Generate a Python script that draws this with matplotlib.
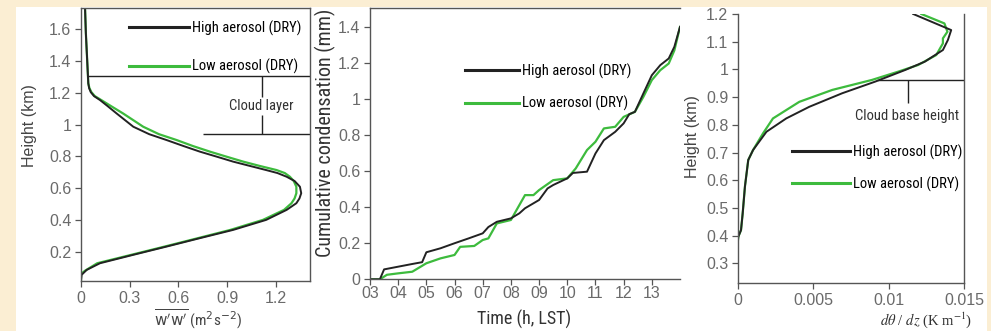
import matplotlib
matplotlib.use("Agg")
import matplotlib.pyplot as plt
from matplotlib import font_manager
from matplotlib.font_manager import FontProperties
from matplotlib.lines import Line2D
from matplotlib.patches import Rectangle

# ---------------- data ----------------
# Panel (a): vertical velocity variance profile
ww_high = [0.025, 0.03, 0.04, 0.045, 0.05, 0.06, 0.08, 0.117, 0.16, 0.22, 0.322, 0.42, 0.527,
           0.632, 0.732, 0.837, 0.937, 1.04, 1.14, 1.21, 1.266, 1.315, 1.348, 1.356, 1.345, 1.326,
           1.266, 1.14, 0.937, 0.732, 0.527, 0.322, 0.117, 0.035, 0.004, 0.0]
z_high = [1.73, 1.575, 1.365, 1.26, 1.23, 1.205, 1.18, 1.155, 1.12, 1.07, 0.987, 0.94, 0.903,
          0.865, 0.83, 0.798, 0.767, 0.74, 0.714, 0.695, 0.672, 0.645, 0.609, 0.568, 0.535, 0.505,
          0.463, 0.40, 0.337, 0.285, 0.232, 0.18, 0.127, 0.085, 0.054, 0.02]
ww_low = [0.025, 0.03, 0.04, 0.045, 0.052, 0.064, 0.085, 0.125, 0.18, 0.26, 0.383, 0.48, 0.589,
          0.69, 0.794, 0.897, 0.999, 1.1, 1.204, 1.255, 1.286, 1.31, 1.326, 1.326, 1.315, 1.296,
          1.25, 1.12, 0.92, 0.72, 0.515, 0.31, 0.10, 0.025, 0.0, 0.0]
z_low = [1.73, 1.575, 1.365, 1.26, 1.23, 1.205, 1.18, 1.155, 1.12, 1.07, 0.987, 0.94, 0.903,
         0.865, 0.83, 0.798, 0.767, 0.74, 0.714, 0.695, 0.672, 0.645, 0.609, 0.568, 0.535, 0.505,
         0.463, 0.40, 0.337, 0.285, 0.232, 0.18, 0.127, 0.08, 0.06, 0.02]
cloud_top, cloud_base1 = 1.306, 0.939

# Panel (b): cumulative condensation
t_high = [3.0, 3.35, 3.5, 4.0, 4.5, 4.85, 5.0, 5.5, 6.0, 6.5, 7.0, 7.2, 7.5, 8.0, 8.3, 8.5, 9.0,
          9.3, 9.5, 10.0, 10.2, 10.7, 11.0, 11.3, 11.7, 12.0, 12.2, 12.4, 12.7, 13.0, 13.3, 13.6,
          13.8, 14.0]
c_high = [0.0, 0.0, 0.055, 0.07, 0.085, 0.095, 0.15, 0.172, 0.2, 0.227, 0.255, 0.29, 0.319, 0.338,
          0.366, 0.394, 0.44, 0.504, 0.523, 0.56, 0.59, 0.597, 0.698, 0.772, 0.818, 0.865, 0.916,
          0.929, 1.031, 1.132, 1.188, 1.225, 1.29, 1.40]
t_low = [3.0, 3.35, 3.6, 4.0, 4.5, 5.0, 5.5, 6.0, 6.2, 6.7, 7.0, 7.2, 7.5, 8.0, 8.5, 8.8, 9.0,
         9.5, 10.0, 10.3, 10.7, 11.0, 11.3, 11.7, 12.0, 12.4, 12.7, 13.0, 13.3, 13.6, 13.8, 14.0]
c_low = [0.0, 0.0, 0.025, 0.033, 0.042, 0.089, 0.116, 0.135, 0.18, 0.185, 0.218, 0.227, 0.31,
         0.329, 0.467, 0.467, 0.495, 0.55, 0.56, 0.615, 0.717, 0.763, 0.837, 0.846, 0.901, 0.929,
         1.012, 1.105, 1.16, 1.197, 1.27, 1.40]
time_ticks = [3, 4, 5, 6, 7, 8, 9, 10, 11, 12, 13]
time_labels = ["03", "04", "05", "06", "07", "08", "09", "10", "11", "12", "13"]

# Panel (c): potential temperature gradient
dth_high = [0.01163, 0.01415, 0.01393, 0.0136, 0.0124, 0.0111, 0.00911, 0.00692, 0.00473, 0.0032,
            0.00189, 0.001, 0.00068, 0.00046, 0.00031, 0.0002, 0.00002, 0.0]
zc_high = [1.2, 1.142, 1.106, 1.07, 1.028, 0.998, 0.956, 0.914, 0.865, 0.823, 0.775, 0.709, 0.673,
           0.577, 0.48, 0.42, 0.396, 0.385]
dth_low = [0.01217, 0.0137, 0.0139, 0.0136, 0.0136, 0.01316, 0.01196, 0.01064, 0.00889, 0.00626,
           0.00407, 0.00232, 0.00166, 0.001, 0.00068, 0.00046, 0.00031, 0.0002, 0.00002, 0.0]
zc_low = [1.2, 1.166, 1.136, 1.112, 1.094, 1.052, 1.016, 0.992, 0.962, 0.926, 0.883, 0.823, 0.769,
          0.709, 0.673, 0.577, 0.48, 0.42, 0.396, 0.385]
cloud_base2 = 0.962

labels = ["High aerosol (DRY)", "Low aerosol (DRY)"]
BLACK = "#222222"
GREEN = "#3dbb3d"

# ---------------- fonts ----------------
entries = font_manager.fontManager.ttflist
names = {f.name for f in entries}
narrow_family, narrow_stretch = "DejaVu Sans", "normal"
for cand in ["Roboto Condensed", "Liberation Sans Narrow", "Open Sans Condensed",
             "Arial Narrow", "DejaVu Sans Condensed"]:
    if cand in names:
        narrow_family = cand
        break
else:
    for f in entries:
        st = str(f.stretch).lower()
        if f.name in ("DejaVu Sans", "Roboto", "Open Sans", "Noto Sans") and \
                ("condensed" in st or (st.isdigit() and int(st) < 500)):
            narrow_family, narrow_stretch = f.name, "condensed"
            break


def NF(size):
    return FontProperties(family=narrow_family, stretch=narrow_stretch, size=size)


plt.rcParams["font.family"] = ["Liberation Sans", "DejaVu Sans"]

TICKC = "#6a6a6a"
SPINEC = "#555555"

fig = plt.figure(figsize=(9.91, 3.31), dpi=100)
fig.patch.set_facecolor("#fbeed3")
W, H = 991, 331
bg = Rectangle((16 / W, 0), (987 - 16) / W, (331 - 7) / H, transform=fig.transFigure,
               facecolor="white", edgecolor="none", zorder=-10)
fig.add_artist(bg)


def ax_at(l, r, t, b):
    a = fig.add_axes([l / W, (H - b) / H, (r - l) / W, (b - t) / H])
    a.set_facecolor("white")
    return a


def style(ax):
    for s in ax.spines.values():
        s.set_color(SPINEC)
        s.set_linewidth(1.0)
    ax.tick_params(direction="out", length=4, width=0.9, color=SPINEC, labelcolor=TICKC,
                   labelsize=11.5, pad=3)


def legend(ax, x, y, spacing, hl):
    hs = [Line2D([], [], color=BLACK, lw=2.2), Line2D([], [], color=GREEN, lw=2.2)]
    ax.legend(hs, labels, loc="upper left", bbox_to_anchor=(x, y), frameon=False,
              borderpad=0, borderaxespad=0, handlelength=hl, handletextpad=0.2,
              labelspacing=spacing, prop=NF(10.5))


# ---- panel 1 ----
ax1 = ax_at(81, 310, 8, 281)
style(ax1)
ax1.plot(ww_low, z_low, color=GREEN, lw=1.6)
ax1.plot(ww_high, z_high, color=BLACK, lw=1.4)
ax1.set_xlim(0, 1.41)
ax1.set_ylim(0.015, 1.735)
ax1.set_xticks([0, 0.3, 0.6, 0.9, 1.2])
ax1.set_xticklabels(["0", "0.3", "0.6", "0.9", "1.2"])
ax1.set_yticks([0.2, 0.4, 0.6, 0.8, 1.0, 1.2, 1.4, 1.6])
ax1.set_yticklabels(["0.2", "0.4", "0.6", "0.8", "1", "1.2", "1.4", "1.6"])
ax1.hlines(cloud_top, 0.045, 1.41, color=BLACK, lw=1.0)
ax1.hlines(cloud_base1, 0.752, 1.41, color=BLACK, lw=1.0)
ax1.vlines(1.112, 1.176, cloud_top, color=BLACK, lw=1.0)
ax1.vlines(1.112, cloud_base1, 1.06, color=BLACK, lw=1.0)
ax1.text(1.112, 1.118, "Cloud layer", ha="center", va="center", fontproperties=NF(10.5),
         color="#333333")
legend(ax1, 0.21, 0.955, 1.6, 4.1)
ax1.set_ylabel("Height (km)", fontsize=11.5, color="#444444")
ax1.yaxis.set_label_coords(-0.19, 0.571)
ax1.set_xlabel(r"$\overline{\mathrm{w'w'}}$ (m$^2$s$^{-2}$)", fontproperties=NF(11),
               color="#444444", math_fontfamily="dejavusans")
ax1.xaxis.set_label_coords(0.511, -0.10)

# ---- panel 2 ----
ax2 = ax_at(370, 680, 8, 279.3)
style(ax2)
ax2.spines["right"].set_visible(False)
ax2.plot(t_low, c_low, color=GREEN, lw=1.6)
ax2.plot(t_high, c_high, color=BLACK, lw=1.4)
ax2.set_xlim(3, 14)
ax2.set_ylim(0, 1.505)
ax2.set_xticks(time_ticks)
ax2.set_xticklabels(time_labels)
ax2.set_yticks([0, 0.2, 0.4, 0.6, 0.8, 1.0, 1.2, 1.4])
ax2.set_yticklabels(["0", "0.2", "0.4", "0.6", "0.8", "1", "1.2", "1.4"])
ax2.tick_params(axis="x", pad=1)
legend(ax2, 0.306, 0.795, 1.15, 3.7)
ax2.set_ylabel("Cumulative condensation (mm)", fontproperties=NF(14.5), color="#333333")
ax2.yaxis.set_label_coords(-0.11, 0.539)
ax2.set_xlabel("Time (h, LST)", fontproperties=NF(13), color="#333333")
ax2.xaxis.set_label_coords(0.497, -0.112)

# ---- panel 3 ----
ax3 = ax_at(738, 964, 14, 283)
style(ax3)
ax3.spines["top"].set_visible(False)
ax3.plot(dth_low, zc_low, color=GREEN, lw=1.6)
ax3.plot(dth_high, zc_high, color=BLACK, lw=1.4)
ax3.set_xlim(0, 0.015)
ax3.set_ylim(0.229, 1.2)
ax3.set_xticks([0, 0.005, 0.01, 0.015])
ax3.set_xticklabels(["0", "0.005", "0.01", "0.015"])
ax3.set_yticks([0.3, 0.4, 0.5, 0.6, 0.7, 0.8, 0.9, 1.0, 1.1, 1.2])
ax3.set_yticklabels(["0.3", "0.4", "0.5", "0.6", "0.7", "0.8", "0.9", "1", "1.1", "1.2"])
ax3.hlines(cloud_base2, 0.00922, 0.015, color=BLACK, lw=1.0)
ax3.vlines(0.01125, 0.878, cloud_base2, color=BLACK, lw=1.0)
ax3.text(0.01125, 0.833, "Cloud base height", ha="center", va="center",
         fontproperties=NF(10.5), color="#333333")
legend(ax3, 0.238, 0.515, 1.15, 4.0)
ax3.set_ylabel("Height (km)", fontsize=11.5, color="#444444")
ax3.yaxis.set_label_coords(-0.17, 0.543)
ax3.set_xlabel(r"$d\theta$ / $dz$ (K m$^{-1}$)", family="Liberation Serif", fontsize=10.5,
               color="#333333", math_fontfamily="stix")
ax3.xaxis.set_label_coords(0.83, -0.10)

fig.savefig("out.png", dpi=100, facecolor=fig.get_facecolor())
